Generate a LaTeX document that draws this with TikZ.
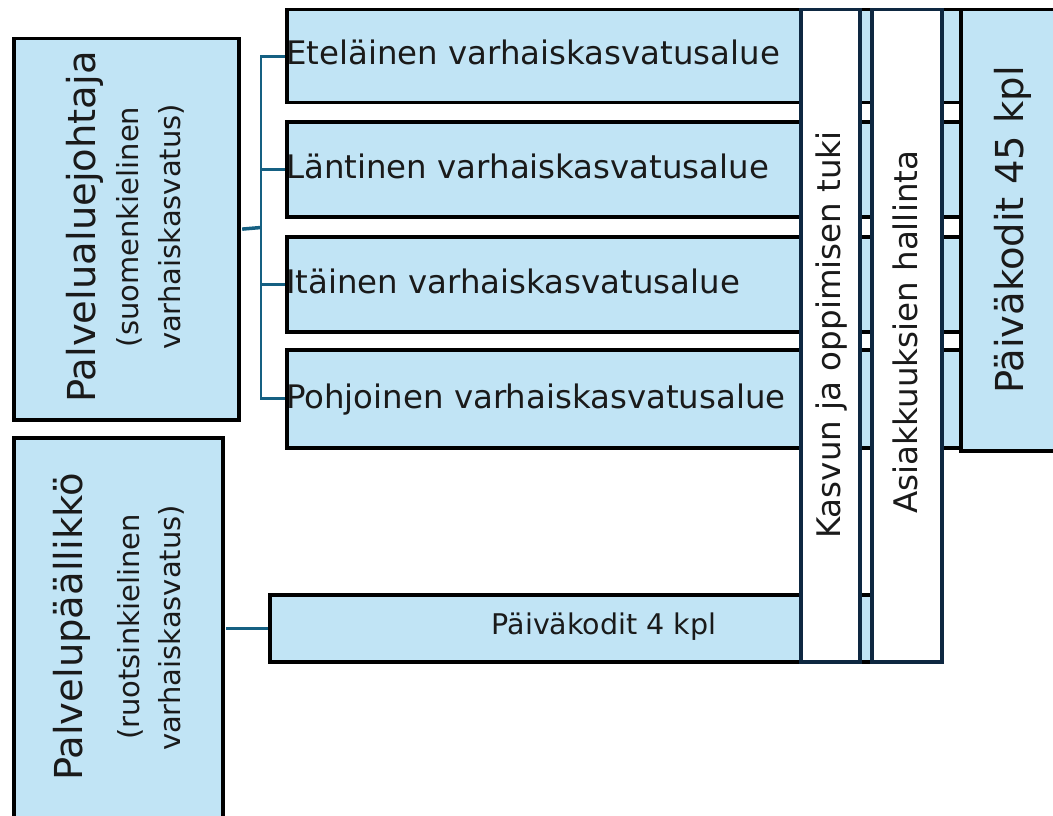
\documentclass[tikz,border=0pt]{standalone}
\usepackage{fontspec}
\setmainfont{DejaVu Sans}
\definecolor{boxfill}{HTML}{C1E4F5}
\definecolor{conncol}{HTML}{156082}
\definecolor{colline}{HTML}{0E2841}
\definecolor{txtcol}{HTML}{1A1A1A}
\tikzset{
 bluebox/.style={draw=black, line width=3.5pt, fill=boxfill, inner sep=0pt, anchor=north west},
 whitecol/.style={draw=colline, line width=3.5pt, fill=white, inner sep=0pt, anchor=north west},
 areatxt/.style={inner sep=0pt, anchor=base west, text=txtcol, font=\fontsize{32.4}{39}\selectfont},
 coltxt/.style={inner sep=0pt, anchor=base, rotate=90, text=txtcol, font=\fontsize{32.5}{39}\selectfont},
 bigtxt/.style={inner sep=0pt, anchor=base, rotate=90, text=txtcol, font=\fontsize{38.5}{46}\selectfont},
 subtxt/.style={inner sep=0pt, anchor=base, rotate=90, text=txtcol, font=\fontsize{29}{35}\selectfont},
 kpltxt/.style={inner sep=0pt, anchor=base, text=txtcol, font=\fontsize{28.5}{34}\selectfont},
 busline/.style={draw=conncol, line width=2.6pt, shorten <=1.7pt, line cap=rect},
 stubline/.style={draw=conncol, line width=3.5pt, shorten <=1.7pt},
}
\begin{document}
\begin{tikzpicture}[x=1pt,y=-1pt]
\useasboundingbox (0,0) rectangle (1053,816);
\clip (0,0) rectangle (1053,816);
\fill[white] (0,0) rectangle (1053,816);

% left boxes
\node[bluebox, minimum width=225pt, minimum height=381pt] (pj) at (12,37) {};
\node[bluebox, minimum width=209pt, minimum height=384pt] (pp) at (12,436) {};

% area boxes
\node[bluebox, minimum width=674pt, minimum height=93pt] (a1) at (285,8) {};
\node[bluebox, minimum width=674pt, minimum height=95pt] (a2) at (285,120) {};
\node[bluebox, minimum width=674pt, minimum height=95pt] (a3) at (285,235) {};
\node[bluebox, minimum width=674pt, minimum height=98pt] (a4) at (285,348) {};
\node[bluebox, minimum width=672pt, minimum height=67pt] (k4) at (268,593) {};

% connectors
\coordinate (bus) at (261,227.5);
\draw[busline] (a1.west) -| (bus);
\draw[busline] (a2.west) -| (bus);
\draw[busline] (a3.west) -| (bus);
\draw[busline] (a4.west) -| (bus);
\draw[stubline] (pj.east) -- (bus);
\draw[stubline] (k4.west -| pp.east) -- (k4.west);

% texts in area boxes
\node[areatxt] (e1) at (286,65) {Eteläinen varhaiskasvatusalue};
\node[areatxt] (e2) at (286,178.5) {Läntinen varhaiskasvatusalue};
\node[areatxt] (e3) at (286,293.5) {Itäinen varhaiskasvatusalue};
\node[areatxt] (e4) at (286,408) {Pohjoinen varhaiskasvatusalue};
\node[kpltxt] (k4t) at (604,634) {Päiväkodit 4 kpl};

% left box texts
\node[bigtxt] (t1) at (95,227) {Palvelualuejohtaja};
\node[subtxt] (s1a) at (138,227) {(suomenkielinen};
\node[subtxt] (s1b) at (180,227) {varhaiskasvatus)};
\node[bigtxt] (t2) at (82,627) {Palvelupäällikkö};
\node[subtxt] (s2a) at (139,627) {(ruotsinkielinen};
\node[subtxt] (s2b) at (180,628) {varhaiskasvatus)};

% vertical columns
\node[whitecol, minimum width=59pt, minimum height=652pt] (c1) at (799,8) {};
\node[whitecol, minimum width=70pt, minimum height=652pt] (c2) at (870,8) {};
\node[coltxt] (c1t) at (840,335) {Kasvun ja oppimisen tuki};
\node[coltxt] (c2t) at (917,332) {Asiakkuuksien hallinta};

% right box
\node[bluebox, minimum width=140pt, minimum height=441pt] (k45) at (959,8) {};
\node[bigtxt] (k45t) at (1023,230) {Päiväkodit 45 kpl};
\end{tikzpicture}
\end{document}
